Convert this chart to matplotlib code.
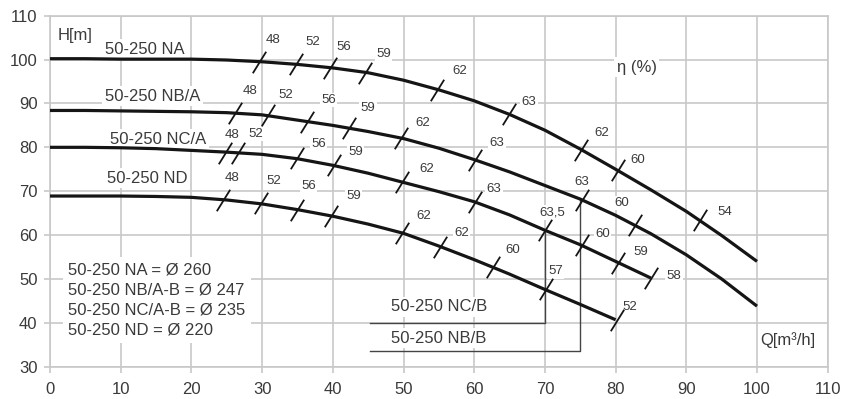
import matplotlib
matplotlib.use('Agg')
import matplotlib.pyplot as plt
from matplotlib.path import Path

plt.rcParams['font.family'] = ['Liberation Sans', 'DejaVu Sans']

# head curves H(Q), every 5 m3/h
na_q = [0, 5, 10, 15, 20, 25, 30, 35, 40, 45, 50, 55, 60, 65, 70, 75, 80, 85, 90, 95, 100]
na_h = [100.2, 100.2, 100.1, 100.1, 100.1, 99.9, 99.5, 98.9, 98.1, 97.0, 95.3, 93.1, 90.6,
        87.5, 83.9, 79.6, 75.0, 70.3, 65.4, 59.9, 54.0]
nb_q = [0, 5, 10, 15, 20, 25, 30, 35, 40, 45, 50, 55, 60, 65, 70, 75, 80, 85, 90, 95, 100]
nb_h = [88.4, 88.4, 88.3, 88.2, 88.1, 87.9, 87.4, 86.2, 85.0, 83.6, 82.0, 79.8, 77.2,
        74.4, 71.3, 68.2, 64.5, 60.3, 55.5, 50.0, 43.8]
nc_q = [0, 5, 10, 15, 20, 25, 30, 35, 40, 45, 50, 55, 60, 65, 70, 75, 80, 85]
nc_h = [80.0, 80.0, 79.9, 79.7, 79.3, 78.9, 78.4, 77.4, 75.9, 74.1, 72.0, 69.9, 67.6,
        64.6, 61.1, 57.8, 54.0, 50.2]
nd_q = [0, 5, 10, 15, 20, 25, 30, 35, 40, 45, 50, 55, 60, 65, 70, 75, 80]
nd_h = [68.9, 68.9, 68.9, 68.8, 68.6, 68.0, 67.1, 65.8, 64.3, 62.5, 60.4, 57.5, 54.4,
        51.1, 47.6, 44.2, 40.7]

# efficiency marks on each curve
na_eq = [29.5, 34.8, 39.6, 44.6, 54.8, 64.9, 75.1, 80.3, 92.0]
na_eh = [99.5, 99.0, 98.0, 97.0, 93.0, 87.7, 79.4, 74.8, 63.4]
na_eta = ['48', '52', '56', '59', '62', '63', '62', '60', '54']
nb_eq = [26.2, 30.8, 36.3, 42.3, 49.7, 60.1, 75.2, 82.8]
nb_eh = [87.8, 87.4, 85.8, 84.3, 82.1, 77.1, 68.1, 62.3]
nb_eta = ['48', '52', '56', '59', '62', '63', '63', '60']
nc_eq = [24.8, 26.6, 34.9, 40.1, 49.8, 60.1, 70.0, 75.2, 80.4, 85.0]
nc_eh = [78.8, 78.7, 77.5, 75.9, 72.1, 67.6, 61.1, 57.7, 53.7, 50.2]
nc_eta = ['48', '52', '56', '59', '62', '63', '63,5', '60', '59', '58']
nd_eq = [24.5, 29.9, 34.9, 39.8, 49.8, 55.1, 62.7, 70.1, 80.2]
nd_eh = [68.1, 67.2, 65.8, 64.3, 60.4, 57.3, 52.8, 47.6, 40.7]
nd_eta = ['48', '52', '56', '59', '62', '62', '60', '57', '52']

# B-impeller cut lines
ncb_q = [45.3, 70.0, 70.0]
ncb_h = [40.0, 40.0, 61.1]
nbb_q = [45.3, 75.0, 75.0]
nbb_h = [33.6, 33.6, 68.1]

names = ['50-250 NA', '50-250 NB/A', '50-250 NC/A', '50-250 ND']
diameters = ['50-250 NA = Ø 260', '50-250 NB/A-B = Ø 247',
             '50-250 NC/A-B = Ø 235', '50-250 ND = Ø 220']

# label offsets in pixels (right, down) from each mark
na_off = [(14, -22), (17, -22), (14, -21), (18, -19), (22, -19), (20, -12), (21, -17), (20, -10), (24, -8)]
nb_off = [(15, -22), (18, -20), (22, -22), (19, -20), (21, -15), (22, -17), (0, -18), (-14, -22)]
nc_off = [(7, -18), (18, -19), (22, -14), (22, -13), (25, -13), (19, -13), (7, -18), (21, -11), (22, -11), (23, -2)]
nd_off = [(9, -22), (12, -22), (12, -24), (22, -20), (22, -17), (22, -14), (19, -17), (10, -18), (13, -13)]

txt = '#3a3a3a'
gridc = '#c8c8c8'
ink = '#151515'

fig = plt.figure(figsize=(8.43, 3.99), dpi=100)
ax = fig.add_axes([50 / 843, 1 - 366.7 / 399, 777.7 / 843, 351 / 399])
ax.set_xlim(0, 110)
ax.set_ylim(30, 110)
ax.set_xticks(range(0, 111, 10))
ax.set_yticks(range(30, 111, 10))
ax.grid(True, color=gridc, lw=1.2)
ax.set_axisbelow(True)
for s in ax.spines.values():
    s.set_color(gridc)
    s.set_linewidth(1.2)
ax.tick_params(length=4, width=1.2, color=gridc, labelcolor=txt, labelsize=12)
ax.tick_params(axis='x', pad=7)
ax.tick_params(axis='y', pad=5)

slash = Path([(-0.62, -1), (0.62, 1)], [Path.MOVETO, Path.LINETO])

curves = [(na_q, na_h, na_eq, na_eh, na_eta, na_off),
          (nb_q, nb_h, nb_eq, nb_eh, nb_eta, nb_off),
          (nc_q, nc_h, nc_eq, nc_eh, nc_eta, nc_off),
          (nd_q, nd_h, nd_eq, nd_eh, nd_eta, nd_off)]
for q, h, eq, eh, eta, off in curves:
    ax.plot(q, h, color=ink, lw=2.3, solid_capstyle='butt', solid_joinstyle='round', zorder=4)
    ax.plot(eq, eh, ls='none', marker=slash, ms=15.5, mew=1.3, mec=ink, zorder=5)
    for x, y, lab, (dx, dy) in zip(eq, eh, eta, off):
        ax.annotate(lab, (x, y), xytext=(dx, -dy), textcoords='offset pixels',
                    ha='center', va='center', fontsize=9.5, color=txt, zorder=3,
                    bbox=dict(boxstyle='square,pad=0.1', fc='white', ec='none'))

ax.plot(ncb_q, ncb_h, color='#444444', lw=1.0, zorder=2)
ax.plot(nbb_q, nbb_h, color='#444444', lw=1.0, zorder=2)

wbox = dict(boxstyle='square,pad=0.15', fc='white', ec='none')
ax.text(1.1, 105.5, 'H[m]', fontsize=12, color=txt, va='center', ha='left', bbox=wbox)
name_pos = [(13.4, 102.3), (14.5, 91.6), (15.3, 81.8), (13.8, 73.0)]
for (x, y), n in zip(name_pos, names):
    ax.text(x, y, n, fontsize=12, color=txt, ha='center', va='center', zorder=3, bbox=wbox)

ax.text(83.0, 98.2, 'η (%)', fontsize=12, color=txt, ha='center', va='center', bbox=wbox)
ax.text(2.6, 45.2, '\n'.join(diameters), fontsize=12, color=txt, ha='left', va='center',
        linespacing=1.4, bbox=dict(boxstyle='square,pad=0.35', fc='white', ec='none'))
ax.text(48.3, 43.7, '50-250 NC/B', fontsize=12, color=txt, ha='left', va='center', bbox=wbox)
ax.text(48.3, 36.5, '50-250 NB/B', fontsize=12, color=txt, ha='left', va='center', bbox=wbox)
ax.text(108.3, 36.1, 'Q[m³/h]', fontsize=12, color=txt, ha='right', va='center', bbox=wbox)

fig.savefig('out.png', dpi=100)
